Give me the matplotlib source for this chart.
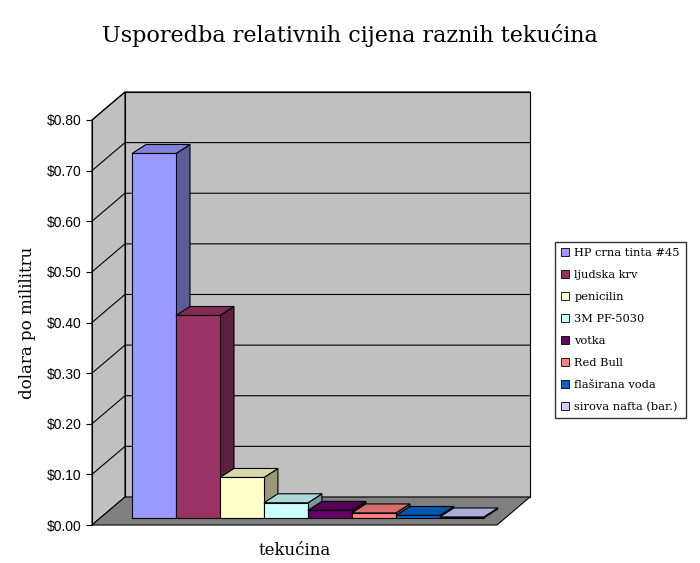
import matplotlib
matplotlib.use("Agg")
import matplotlib.pyplot as plt
from matplotlib.patches import Polygon
from matplotlib.ticker import FuncFormatter
import matplotlib.colors as mc

categories = ["HP crna tinta #45", "ljudska krv", "penicilin", "3M PF-5030",
              "votka", "Red Bull", "flaširana voda", "sirova nafta (bar.)"]
values = [0.72, 0.40, 0.08, 0.03, 0.015, 0.01, 0.005, 0.002]
colors = ["#9999ff", "#993366", "#ffffcc", "#ccffff", "#660066", "#ff8080", "#0066cc", "#ccccff"]
yticks = [0.0, 0.1, 0.2, 0.3, 0.4, 0.5, 0.6, 0.7, 0.8]

fig = plt.figure(figsize=(7, 5.63), dpi=100)
ax = fig.add_axes([92/700, 38/563, 405/700, 405/563])
xl, xr = -1.41, 7.8
ax.set_xlim(xl, xr); ax.set_ylim(0, 0.8)
PX, PY = 44.0, 506.0
wdx, wdy = 33/PX, 28/PY
bdx, bdy = 14/PX, 9/PY
y0 = 7/PY

def poly(pts, fc, z, ec="black", lw=0.8):
    ax.add_patch(Polygon(pts, closed=True, fc=fc, ec=ec, lw=lw, zorder=z, clip_on=False))

poly([(xl+wdx, wdy), (xr+wdx, wdy), (xr+wdx, 0.8+wdy), (xl+wdx, 0.8+wdy)], "#c0c0c0", 1)
poly([(xl, 0), (xl+wdx, wdy), (xl+wdx, 0.8+wdy), (xl, 0.8)], "#c0c0c0", 1)
poly([(xl, 0), (xr, 0), (xr+wdx, wdy), (xl+wdx, wdy)], "#808080", 1)
for t in yticks[1:]:
    ax.plot([xl, xl+wdx, xr+wdx], [t, t+wdy, t+wdy], color="black", lw=0.8, zorder=2, clip_on=False)

def shade(c, f):
    r, g, b = mc.to_rgb(c)
    return (r*f, g*f, b*f)

for i, (v, c) in enumerate(zip(values, colors)):
    x0, x1 = i-0.5, i+0.5
    top = y0 + v
    z = 3 + i
    poly([(x1, y0), (x1+bdx, y0+bdy), (x1+bdx, top+bdy), (x1, top)], shade(c, 0.6), z)
    poly([(x0, top), (x1, top), (x1+bdx, top+bdy), (x0+bdx, top+bdy)], shade(c, 0.85), z)
    poly([(x0, y0), (x1, y0), (x1, top), (x0, top)], c, z)
    ax.bar([i], [0], color=c, label=categories[i])

for s in ["top", "right", "bottom"]:
    ax.spines[s].set_visible(False)
ax.set_xticks([])
ax.set_yticks(yticks)
ax.yaxis.set_major_formatter(FuncFormatter(lambda v, p: "\\$%.2f" % v))
ax.tick_params(axis="y", labelsize=10, direction="out", length=4)
for lab in ax.get_yticklabels():
    lab.set_family("Liberation Sans")
ax.set_xlabel("tekućina", family="DejaVu Serif", fontsize=12, labelpad=12)
ax.set_ylabel("dolara po mililitru", family="DejaVu Serif", fontsize=12, labelpad=8)
fig.text(0.5, 0.925, "Usporedba relativnih cijena raznih tekućina", ha="center",
         family="DejaVu Serif", fontsize=16)
leg = fig.legend(loc="center left", bbox_to_anchor=(555/700, 1-330/563), frameon=True,
                 prop={"family": "DejaVu Serif", "size": 8.2}, fancybox=False,
                 edgecolor="black", handlelength=0.7, handleheight=0.7, labelspacing=1.05,
                 borderpad=0.5, handletextpad=0.5, borderaxespad=0)
for h in leg.legend_handles:
    h.set_edgecolor("black"); h.set_linewidth(0.6)
fig.savefig("out.png", dpi=100)
